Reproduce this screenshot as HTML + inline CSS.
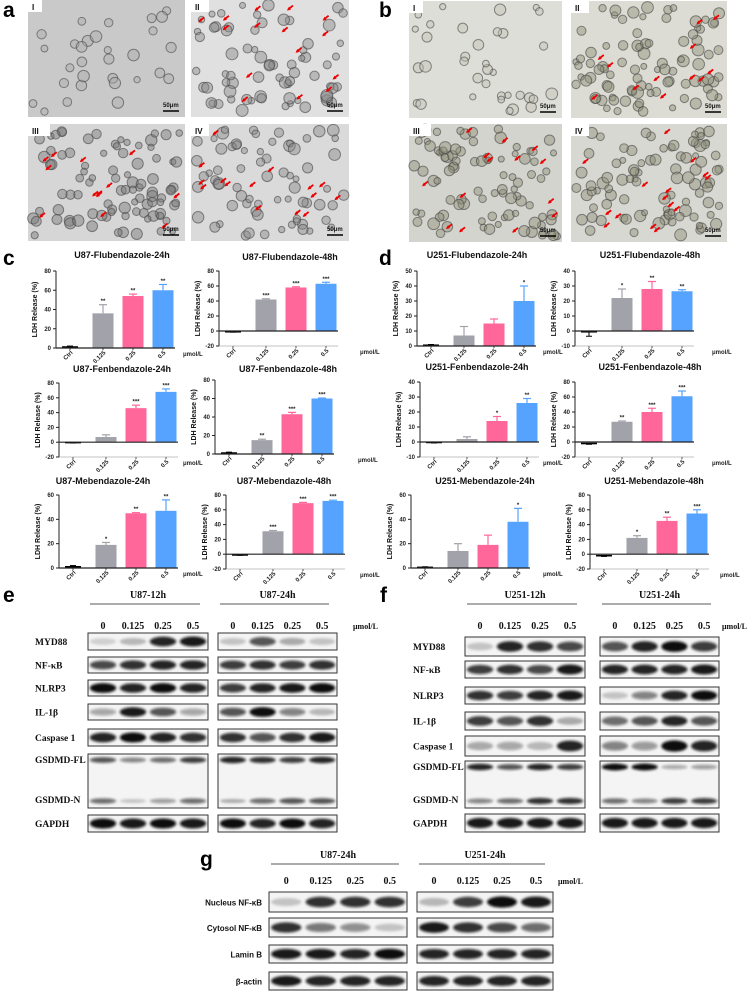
<!DOCTYPE html>
<html><head><meta charset="utf-8"><style>
html,body{margin:0;padding:0;background:#fff;}
svg{display:block;}
.t{font-family:"Liberation Sans",Arial,sans-serif;font-weight:bold;}
.s{font-family:"Liberation Serif","Times New Roman",serif;font-weight:bold;}
</style></head><body>
<svg id="fig" width="754" height="999" viewBox="0 0 754 999" xmlns="http://www.w3.org/2000/svg">
<defs>
<filter id="blur" x="-30%" y="-100%" width="160%" height="300%"><feGaussianBlur stdDeviation="1.4"/></filter>
</defs>
<g id="micro"></g>
<g id="charts"></g>
<g id="blots"></g>
<g id="letters">
<text class="t" x="3" y="17" font-size="21">a</text>
<text class="t" x="379" y="17" font-size="21">b</text>
<text class="t" x="3" y="265" font-size="21">c</text>
<text class="t" x="379" y="265" font-size="21">d</text>
<text class="t" x="3" y="602" font-size="21">e</text>
<text class="t" x="380" y="602" font-size="21">f</text>
<text class="t" x="200" y="866" font-size="21">g</text>
</g>
</svg>
<script>
// ===== Chart data (LDH release %) =====
const categories = ["Ctrl","0.125","0.25","0.5"];
const c1Vals=[1,36,54,60], c1Err=[1,9,2,6], c1Stars=["","**","**","**"];
const c2Vals=[-1,42,58,63], c2Err=[0.5,1,1,2], c2Stars=["","***","***","***"];
const c3Vals=[-0.5,7,46,68], c3Err=[0.5,3,4,4], c3Stars=["","","***","***"];
const c4Vals=[1,15,43,60], c4Err=[1,1,2,0.5], c4Stars=["","**","***","***"];
const c5Vals=[1,19,45,47], c5Err=[1,2,0.5,9], c5Stars=["","*","**","**"];
const c6Vals=[-1,31,69,72], c6Err=[0.5,1,1,1], c6Stars=["","***","***","***"];
const d1Vals=[0.5,7,15,30], d1Err=[0.5,6,3,10], d1Stars=["","","","*"];
const d2Vals=[-0.5,22,28,26.5], d2Err=[3,6,5,1], d2Stars=["","*","**","**"];
const d3Vals=[-0.3,2,14,26], d3Err=[0.3,1.5,3,3], d3Stars=["","","*","**"];
const d4Vals=[-2,27,40,61], d4Err=[1,1,5,7], d4Stars=["","**","***","***"];
const d5Vals=[0.5,14,19,38], d5Err=[0.5,6,8,11], d5Stars=["","","","*"];
const d6Vals=[-2,22,45,55], d6Err=[1,3,5,5], d6Stars=["","*","**","***"];
const ticks80=[0,20,40,60,80], ticksN80=[-20,0,20,40,60,80], ticks60=[0,20,40,60];
const ticks50=[0,10,20,30,40,50], ticksN40=[-10,0,10,20,30,40];

const NS="http://www.w3.org/2000/svg";
function mk(tag,attrs,parent,txt){const e=document.createElementNS(NS,tag);for(const k in attrs)e.setAttribute(k,attrs[k]);if(txt!==undefined)e.textContent=txt;parent.appendChild(e);return e;}
const barColors=["#000","#a2a2aa","#ff6699","#55a3ff"];
const xOff=[14,47,77,107];

function chart(id,title,tx,ty,x0,yTop,yBot,ticks,vals,errs,stars,unitX){
  const g=mk('g',{},document.getElementById('charts'));
  
  
  const ymin=ticks[0],ymax=ticks[ticks.length-1];
  const y=v=>yBot-(v-ymin)/(ymax-ymin)*(yBot-yTop);
  const tt=mk('text',{x:tx,y:ty,'text-anchor':'middle','font-size':9,class:'t',fill:'#111'},g,title);
  
  
  mk('line',{x1:x0,y1:yTop,x2:x0,y2:yBot,stroke:'#222','stroke-width':1},g);
  ticks.forEach(t=>{
    mk('line',{x1:x0-3,y1:y(t),x2:x0,y2:y(t),stroke:'#222','stroke-width':1},g);
    const tl=mk('text',{x:x0-5,y:y(t)+2,'text-anchor':'end','font-size':6,class:'t',fill:'#222'},g,String(t));
    
    
  });
  const yl=mk('text',{x:0,y:0,transform:`translate(${x0-19},${(yTop+yBot)/2}) rotate(-90)`,'text-anchor':'middle','font-size':7,class:'t',fill:'#111'},g,'LDH Release (%)');
  
  
  vals.forEach((v,i)=>{
    const cx=x0+xOff[i];
    if(i===0){
      const ey=y(v+(v>=0?errs[i]:-errs[i]));
      mk('line',{x1:cx-8,y1:y(v),x2:cx+8,y2:y(v),stroke:'#000','stroke-width':1.6},g);
      mk('line',{x1:cx,y1:y(v),x2:cx,y2:ey,stroke:'#000','stroke-width':1},g);
      mk('line',{x1:cx-3,y1:ey,x2:cx+3,y2:ey,stroke:'#000','stroke-width':1},g);
    } else {
      const b=mk('rect',{x:cx-10.5,y:Math.min(y(v),y(0)),width:21,height:Math.abs(y(0)-y(v)),fill:barColors[i]},g);
      
      
      const ey=y(v+errs[i]);
      mk('line',{x1:cx,y1:y(v),x2:cx,y2:ey,stroke:barColors[i],'stroke-width':1.2},g);
      mk('line',{x1:cx-4,y1:ey,x2:cx+4,y2:ey,stroke:barColors[i],'stroke-width':1.2},g);
      if(stars[i]){const st=mk('text',{x:cx,y:ey-1.5,'text-anchor':'middle','font-size':6,class:'t',fill:'#222'},g,stars[i]);
        
        }
    }
  });
  mk('line',{x1:x0,y1:y(0),x2:x0+119,y2:y(0),stroke:'#222','stroke-width':1.2},g);
  categories.forEach((c,i)=>{
    const cx=x0+xOff[i];
    mk('line',{x1:cx,y1:yBot,x2:cx,y2:yBot+2,stroke:'#222','stroke-width':0.8},g);
    const tl=mk('text',{x:0,y:0,transform:`translate(${cx+3},${yBot+5}) rotate(-45)`,'text-anchor':'end','font-size':6,class:'t',fill:'#222'},g,c);
    
    
  });
  if(ymin<0) mk('line',{x1:x0,y1:yBot,x2:x0+119,y2:yBot,stroke:'#888','stroke-width':0.6},g);
  const u=mk('text',{x:unitX,y:yBot+8,'font-size':6,class:'t',fill:'#222'},g,'μmol/L');
  
  
}
chart('u87-flu-24','U87-Flubendazole-24h',122,258,56,271,348,ticks80,c1Vals,c1Err,c1Stars,183);
chart('u87-flu-48','U87-Flubendazole-48h',290,260,219,271,346,ticksN80,c2Vals,c2Err,c2Stars,360);
chart('u87-fen-24','U87-Fenbendazole-24h',122,372,59,383,457,ticksN80,c3Vals,c3Err,c3Stars,183);
chart('u87-fen-48','U87-Fenbendazole-48h',288,372,215,380,454,ticks80,c4Vals,c4Err,c4Stars,358);
chart('u87-meb-24','U87-Mebendazole-24h',103,484,59,495,568,ticks60,c5Vals,c5Err,c5Stars,183);
chart('u87-meb-48','U87-Mebendazole-48h',284,484,226,495,569,ticksN80,c6Vals,c6Err,c6Stars,360);
chart('u251-flu-24','U251-Flubendazole-24h',477,258,417,271,346,ticks50,d1Vals,d1Err,d1Stars,543);
chart('u251-flu-48','U251-Flubendazole-48h',650,258,575,271,346,ticksN40,d2Vals,d2Err,d2Stars,712);
chart('u251-fen-24','U251-Fenbendazole-24h',477,370,420,382,457,ticksN40,d3Vals,d3Err,d3Stars,543);
chart('u251-fen-48','U251-Fenbendazole-48h',650,370,575,382,457,ticksN80,d4Vals,d4Err,d4Stars,712);
chart('u251-meb-24','U251-Mebendazole-24h',485,484,411,495,568,ticks60,d5Vals,d5Err,d5Stars,543);
chart('u251-meb-48','U251-Mebendazole-48h',654,484,590,495,569,ticksN80,d6Vals,d6Err,d6Stars,720);

// ===== Micrographs =====
let seed=7;function rnd(){seed=(seed*16807)%2147483647;return (seed-1)/2147483646;}
function micro(name,x,y,w,h,label,bg,cellCol,n,arrows){
  const g=mk('g',{},document.getElementById('micro'));
  
  
  mk('rect',{x,y,width:w,height:h,fill:bg},g);
  for(let i=0;i<n;i++){
    const cx=x+5+rnd()*(w-10),cy=y+5+rnd()*(h-10),r=3+rnd()*3;
    mk('circle',{cx,cy,r,fill:cellCol,'fill-opacity':0.45,stroke:'#444','stroke-opacity':0.6,'stroke-width':1},g);
  }
  for(let i=0;i<arrows;i++){
    const ax=x+8+rnd()*(w-16),ay=y+8+rnd()*(h-16);
    mk('line',{x1:ax+5,y1:ay-4,x2:ax,y2:ay,stroke:'#e00','stroke-width':1.8},g);
    mk('path',{d:`M${ax-1},${ay+1} l4,-1 l-2,-3 z`,fill:'#e00'},g);
  }
  mk('rect',{x,y,width:label.length*4+10,height:12,fill:'#fff'},g);
  mk('text',{x:x+4,y:y+10,'font-size':8,class:'t',fill:'#111'},g,label);
  mk('text',{x:x+w-22,y:y+h-10,'font-size':6,class:'t',fill:'#111'},g,'50μm');
  mk('line',{x1:x+w-22,y1:y+h-6,x2:x+w-6,y2:y+h-6,stroke:'#000','stroke-width':1.5},g);
}
micro('micrograph-a-I',28,0,157,117,'I','#c9c9c9','#aaa',30,0);
micro('micrograph-a-II',191,0,158,117,'II','#e0e0e0','#888',70,15);
micro('micrograph-a-III',28,124,157,117,'III','#d6d6d6','#777',90,13);
micro('micrograph-a-IV',191,124,158,117,'IV','#dadada','#888',70,15);
micro('micrograph-b-I',409,1,153,117,'I','#deded8','#c0c0b6',35,0);
micro('micrograph-b-II',571,1,156,117,'II','#dcdcd4','#8f8f78',90,12);
micro('micrograph-b-III',409,124,153,118,'III','#d4d4ce','#8f8f78',90,14);
micro('micrograph-b-IV',571,124,156,118,'IV','#d8d8d2','#8f8f78',90,15);

// ===== Western blots =====
const lanes=["0","0.125","0.25","0.5"];
function blot(name,hdrL,hdrR,boxL,boxR,hdrY,laneY,unitX,rows,labelX,labelAnchor,labelClass){
  const g=mk('g',{},document.getElementById('blots'));
  
  
  [[hdrL,boxL],[hdrR,boxR]].forEach(([h,b])=>{
    const cx=(b[0]+b[1])/2;
    mk('text',{x:cx,y:hdrY,'text-anchor':'middle','font-size':10,class:'s',fill:'#111'},g,h);
    mk('line',{x1:b[0]+2,y1:hdrY+6,x2:b[1]-8,y2:hdrY+6,stroke:'#222','stroke-width':0.8},g);
    const lw=(b[1]-b[0])/4;
    lanes.forEach((l,i)=>mk('text',{x:b[0]+lw*(i+0.5),y:laneY,'text-anchor':'middle','font-size':10,class:'s',fill:'#111'},g,l));
  });
  mk('text',{x:unitX,y:laneY,'font-size':8,class:'s',fill:'#111'},g,'μmol/L');
  rows.forEach(r=>{
    [[boxL,r.l],[boxR,r.r]].forEach(([b,ints])=>{
      mk('rect',{x:b[0],y:r.y0,width:b[1]-b[0],height:r.y1-r.y0,fill:'#f4f4f4',stroke:'#333','stroke-width':1},g);
      const lw=(b[1]-b[0])/4;
      const centers=r.n?[r.y0+6,r.y1-7]:[(r.y0+r.y1)/2];
      centers.forEach((cy,k)=>{
        const arr=k===0?ints:r[b===boxL?'nl':'nr'];
        arr.forEach((v,i)=>mk('ellipse',{cx:b[0]+lw*(i+0.5),cy,rx:lw*0.44,ry:Math.max(2,(r.n?8:(r.y1-r.y0))*0.18+v*2),fill:'#111','fill-opacity':v,filter:'url(#blur)'},g));
      });
    });
    const labs=r.n?[[r.label,r.y0+9],[r.label2,r.y1-5]]:[[r.label,(r.y0+r.y1)/2+3.5]];
    labs.forEach(([t,ly])=>{const e=mk('text',{x:labelX,y:ly,'text-anchor':labelAnchor,'font-size':labelClass==='s'?9.5:8,class:labelClass,fill:'#111'},g,t);
      
      });
  });
}
blot('blot-e','U87-12h','U87-24h',[88,208],[218,337],598,629,353,[
 {label:'MYD88',y0:633,y1:650,l:[.15,.25,.9,.95],r:[.2,.7,.3,.2]},
 {label:'NF-κB',y0:657,y1:673,l:[.75,.85,.9,.9],r:[.8,.85,.8,.85]},
 {label:'NLRP3',y0:680,y1:696,l:[1,.9,1,.9],r:[.8,.9,.95,1]},
 {label:'IL-1β',y0:704,y1:720,l:[.35,.95,.7,.35],r:[.7,1,.5,.25]},
 {label:'Caspase 1',y0:729,y1:746,l:[.9,1,.9,.85],r:[.85,.7,.85,.95]},
 {label:'GSDMD-FL',label2:'GSDMD-N',n:true,y0:754,y1:808,l:[.7,.5,.6,.8],r:[.9,.85,.8,.9],nl:[.6,.2,.4,.6],nr:[.3,.6,.7,.7]},
 {label:'GAPDH',y0:815,y1:832,l:[1,.95,1,.95],r:[1,.9,1,.9]}],35,'start','s');
blot('blot-f','U251-12h','U251-24h',[465,585],[600,719],598,629,722,[
 {label:'MYD88',y0:637,y1:656,l:[.2,.9,.85,.75],r:[.7,.9,1,.8]},
 {label:'NF-κB',y0:661,y1:678,l:[.8,.85,.75,.95],r:[.9,.9,.9,.95]},
 {label:'NLRP3',y0:687,y1:704,l:[.85,.8,.9,.95],r:[.2,.5,.9,1]},
 {label:'IL-1β',y0:712,y1:730,l:[.8,.7,.85,.3],r:[.6,.7,.9,.7]},
 {label:'Caspase 1',y0:736,y1:756,l:[.3,.35,.25,.9],r:[.5,.4,1,.9]},
 {label:'GSDMD-FL',label2:'GSDMD-N',n:true,y0:761,y1:808,l:[.9,.7,.9,.8],r:[1,1,.35,.4],nl:[.5,.6,.85,.85],nr:[.6,.5,.8,.8]},
 {label:'GAPDH',y0:814,y1:832,l:[.95,.95,.95,.95],r:[.95,.95,.95,.95]}],413,'start','s');
blot('blot-g','U87-24h','U251-24h',[269,407],[417,553],858,884,558,[
 {label:'Nucleus NF-κB',y0:892,y1:912,l:[.2,.85,.85,.85],r:[.25,.8,1,.95]},
 {label:'Cytosol NF-κB',y0:918,y1:937,l:[.85,.55,.45,.2],r:[.95,.85,.75,.6]},
 {label:'Lamin B',y0:945,y1:963,l:[.95,.95,.9,1],r:[.9,.9,.9,.9]},
 {label:'β-actin',y0:972,y1:990,l:[.95,.9,.9,.9],r:[.9,.9,.9,.9]}],262,'end','t');
</script>
</body></html>
